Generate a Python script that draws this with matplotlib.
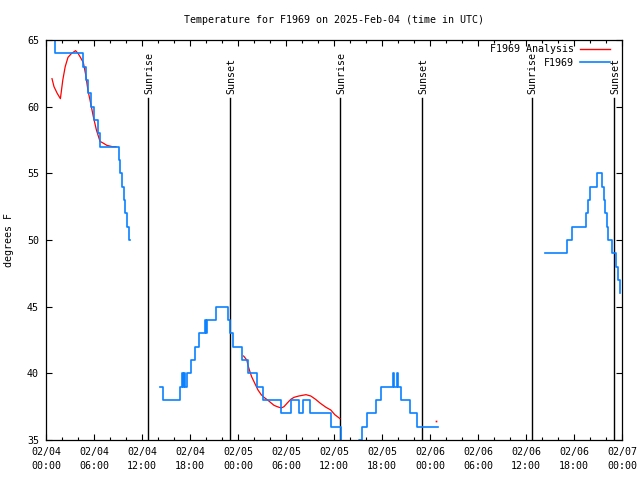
import numpy as np
import matplotlib
matplotlib.use("Agg")
import matplotlib.pyplot as plt
import matplotlib.transforms as mtransforms
from matplotlib.lines import Line2D

# time axis: hours since 2025-02-04 00:00 UTC
# observed temperatures (F1969), value holds until the next entry
obs1_hours = [0.7, 1.0, 1.15, 4.6, 4.95, 5.3, 5.6, 5.95, 6.45, 6.75, 9.1, 9.3, 9.5,
              9.7, 9.9, 10.1, 10.35, 10.55]
obs1_temps = [66, 65, 64, 63, 62, 61, 60, 59, 58, 57, 56, 55, 54, 53, 52, 51, 50, 50]

obs2_hours = [14.3, 14.6, 16.7, 17.05, 17.15, 17.3, 17.4, 17.6, 18.1, 18.6, 19.1, 19.85,
              20.05, 20.15, 21.3, 22.7, 23.0, 23.4, 24.5, 25.2, 26.4, 27.1, 29.4, 30.6,
              31.6, 32.1, 33.0, 35.6, 36.85, 39.1, 39.5, 40.15, 41.3, 41.9, 43.35, 43.45,
              43.85, 43.95, 44.4, 45.5, 46.35, 49.0]
obs2_temps = [39, 38, 39, 40, 39, 40, 39, 40, 41, 42, 43, 44,
              43, 44, 45, 44, 43, 42, 41, 40, 39, 38, 37, 38,
              37, 38, 37, 36, 34, 35, 36, 37, 38, 39, 40, 39,
              40, 39, 38, 37, 36, 36]

obs3_hours = [62.4, 65.1, 65.75, 67.5, 67.75, 67.95, 68.85, 69.55, 69.75, 69.9, 70.1,
              70.3, 70.7, 71.25, 71.5, 71.7, 71.75]
obs3_temps = [49, 50, 51, 52, 53, 54, 55, 54, 53, 52, 51, 50, 49, 48, 47, 46, 46]

# analysis (F1969 Analysis)
ana1_hours = [0.75, 1.0, 1.4, 1.8, 2.1, 2.4, 2.75, 3.2, 3.7, 4.0, 4.3, 4.67, 4.96, 5.25,
              5.5, 5.9, 6.3, 6.75, 7.2, 7.6, 8.3, 8.75]
ana1_temps = [62.1, 61.5, 61.0, 60.6, 62.0, 63.0, 63.7, 64.0, 64.2, 64.0, 63.7, 63.3,
              62.4, 61.2, 60.5, 59.3, 58.25, 57.4, 57.25, 57.1, 57.0, 57.0]
ana2_hours = [24.7, 25.1, 25.25, 25.45, 25.7, 26.1, 26.5, 26.9, 27.25, 27.7, 28.1, 28.5,
              28.9, 29.4, 29.75, 30.2, 30.6, 31.0, 31.6, 32.5, 33.1, 33.7, 34.3, 35.0,
              35.6, 36.1, 36.75]
ana2_temps = [41.3, 41.0, 40.6, 40.2, 39.75, 39.25, 38.75, 38.4, 38.2, 38.0, 37.8, 37.6,
              37.5, 37.4, 37.5, 37.8, 38.05, 38.2, 38.3, 38.4, 38.3, 38.05, 37.75, 37.45,
              37.25, 36.9, 36.6]
ana3_hours = [48.7]
ana3_temps = [36.4]

sunrise_hours = [12.78, 36.78, 60.7]
sunset_hours = [23.04, 47.04, 71.04]

tick_hours = list(range(0, 73, 6))
tick_labels = ["02/04\n00:00", "02/04\n06:00", "02/04\n12:00", "02/04\n18:00",
               "02/05\n00:00", "02/05\n06:00", "02/05\n12:00", "02/05\n18:00",
               "02/06\n00:00", "02/06\n06:00", "02/06\n12:00", "02/06\n18:00",
               "02/07\n00:00"]

BLUE = "#0a82ff"
RED = "#ff0000"
FONT = "DejaVu Sans Mono"
FS = 7.2

plt.rcParams['font.family'] = FONT
fig = plt.figure(figsize=(6.4, 4.8), dpi=100)
ax = fig.add_axes([46 / 640, 40 / 480, 576 / 640, 400 / 480])

# sunrise / sunset markers
trans = mtransforms.blended_transform_factory(ax.transData, ax.transAxes)
for lab, hours in (("Sunrise", sunrise_hours), ("Sunset", sunset_hours)):
    for h in hours:
        ax.axvline(h, ymin=0, ymax=0.855, color="black", lw=1.0)
        ax.text(h + 0.1, 0.866, lab, rotation=90, ha="center", va="bottom",
                fontsize=FS, transform=trans)

for hs, ts in ((ana1_hours, ana1_temps), (ana2_hours, ana2_temps)):
    ax.plot(hs, ts, color=RED, lw=0.9)
ax.plot(ana3_hours, ana3_temps, ls="none", marker="s", ms=1.2, color=RED, mew=0)

for hs, ts in ((obs1_hours, obs1_temps), (obs2_hours, obs2_temps), (obs3_hours, obs3_temps)):
    ax.plot(hs, ts, color=BLUE, lw=1.2, drawstyle="steps-post")

ax.set_xlim(0, 72)
ax.set_ylim(35, 65)
ax.set_xticks(tick_hours)
ax.set_xticklabels(tick_labels, fontsize=FS, linespacing=1.45)
ax.set_xticks(np.arange(0, 73, 2), minor=True)
ax.set_yticks(range(35, 66, 5))
ax.tick_params(axis="y", labelsize=FS)
ax.tick_params(which="major", direction="in", length=4.5, width=0.8,
               top=True, right=True, pad=5)
ax.tick_params(which="minor", direction="in", length=2, width=0.8, top=True)
for sp in ax.spines.values():
    sp.set_linewidth(0.9)

ax.set_title("Temperature for F1969 on 2025-Feb-04 (time in UTC)", fontsize=FS, pad=12)
ax.set_ylabel("degrees F", fontsize=FS)
ax.yaxis.set_label_coords(-32 / 576, 0.5)

handles = [Line2D([], [], color=RED, lw=1.0), Line2D([], [], color=BLUE, lw=1.2)]
ax.legend(handles, ["F1969 Analysis", "F1969"], loc="upper right", frameon=False,
          markerfirst=False, fontsize=FS, handlelength=3.0, handletextpad=0.6,
          labelspacing=0.35, borderaxespad=0.2, bbox_to_anchor=(0.99, 1.005))

fig.savefig("out.png", dpi=100)
